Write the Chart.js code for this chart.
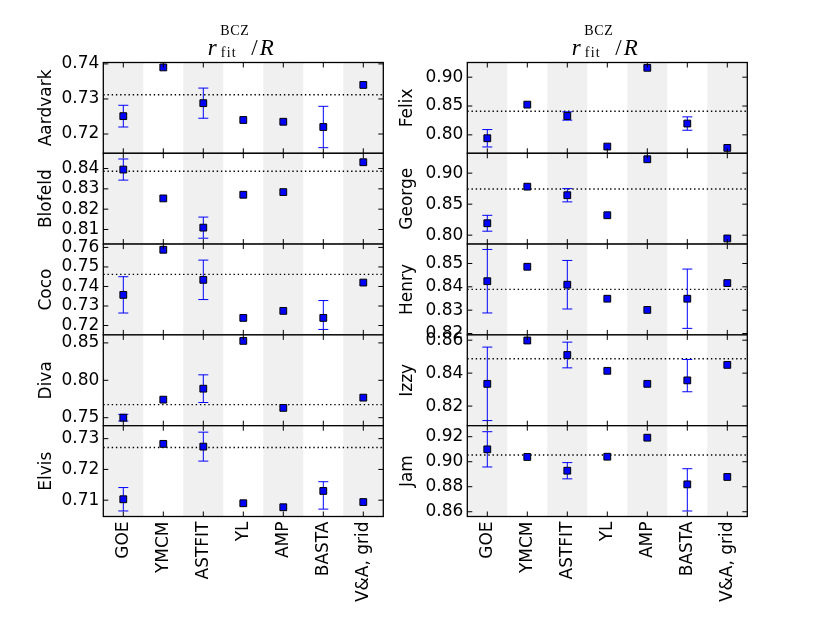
<!DOCTYPE html>
<html>
<head>
<meta charset="utf-8">
<script src="https://cdn.jsdelivr.net/npm/chart.js@4.4.0/dist/chart.umd.min.js"></script>
<style>
  body { margin: 0; background: #fff; width: 830px; height: 623px; overflow: hidden; position: relative; }
  canvas { position: absolute; }
  .tt { position: absolute; font-family: "Liberation Serif", serif; line-height: 1; white-space: nowrap; color: #000; }
</style>
</head>
<body>
<script>
// categories (x axis)
const categories = ['GOE', 'YMCM', 'ASTFIT', 'YL', 'AMP', 'BASTA', 'V&A, grid'];

// each panel: values, error bars (number = symmetric, [down, up] = asymmetric), reference line, ticks, y limits
const aardvark = [0.7251, 0.7390, 0.7288, 0.7240, 0.7235, 0.7220, 0.7340];
const aardvarkErr = [0.0031, 0, 0.0043, 0, 0, 0.0059, 0];
const aardvarkRef = 0.7312;
const aardvarkTicks = [0.72, 0.73, 0.74];
const aardvarkLim = [0.7145, 0.7404];

const blofeld = [0.8395, 0.8253, 0.8109, 0.8271, 0.8284, null, 0.8431];
const blofeldErr = [0.0052, 0, 0.0052, 0, 0, 0, 0];
const blofeldRef = 0.8387;
const blofeldTicks = [0.81, 0.82, 0.83, 0.84];
const blofeldLim = [0.8028, 0.8475];

const coco = [0.7357, 0.7588, 0.7434, 0.7239, 0.7275, 0.7239, 0.7420];
const cocoErr = [0.0093, 0, 0.0101, 0, 0, [0.0059, 0.0089], 0];
const cocoRef = 0.7462;
const cocoTicks = [0.72, 0.73, 0.74, 0.75, 0.76];
const cocoLim = [0.7152, 0.7617];

const diva = [0.7500, 0.7741, 0.7888, 0.8527, 0.7631, null, 0.7768];
const divaErr = [0.0045, 0, 0.0185, 0, 0, 0, 0];
const divaRef = 0.7675;
const divaTicks = [0.75, 0.80, 0.85];
const divaLim = [0.7393, 0.8607];

const elvis = [0.7103, 0.7283, 0.7274, 0.7090, 0.7077, 0.7130, 0.7094];
const elvisErr = [0.0038, 0, 0.0047, 0, 0, [0.0059, 0.0030], 0];
const elvisRef = 0.7271;
const elvisTicks = [0.71, 0.72, 0.73];
const elvisLim = [0.7047, 0.7342];

const felix = [0.7941, 0.8524, 0.8327, 0.7797, 0.9163, 0.8196, 0.7774];
const felixErr = [0.0151, 0, 0.0072, 0, 0, 0.0116, 0];
const felixRef = 0.8410;
const felixTicks = [0.80, 0.85, 0.90];
const felixLim = [0.768, 0.9255];

const george = [0.8192, 0.8782, 0.8644, 0.8321, 0.9224, null, 0.7947];
const georgeErr = [0.0128, 0, 0.0107, 0, 0, 0, 0];
const georgeRef = 0.8744;
const georgeTicks = [0.80, 0.85, 0.90];
const georgeLim = [0.7856, 0.932];

const henry = [0.8424, 0.8486, 0.8409, 0.8349, 0.8301, 0.8349, 0.8416];
const henryErr = [0.0136, 0, 0.0104, 0, 0, 0.0127, 0];
const henryRef = 0.8389;
const henryTicks = [0.82, 0.83, 0.84, 0.85];
const henryLim = [0.8194, 0.8583];

const izzy = [0.8335, 0.8598, 0.8510, 0.8414, 0.8335, 0.8356, 0.8450];
const izzyErr = [0.0223, 0, 0.0078, 0, 0, [0.0069, 0.0127], 0];
const izzyRef = 0.8487;
const izzyTicks = [0.82, 0.84, 0.86];
const izzyLim = [0.8081, 0.8632];

const jam = [0.9099, 0.9038, 0.8928, 0.9040, 0.9192, 0.8819, 0.8878];
const jamErr = [0.0141, 0, 0.0065, 0, 0, [0.0213, 0.0125], 0];
const jamRef = 0.9054;
const jamTicks = [0.86, 0.88, 0.90, 0.92];
const jamLim = [0.8562, 0.9288];

const panels = [
  {name: 'Aardvark', values: aardvark, err: aardvarkErr, ref: aardvarkRef, ticks: aardvarkTicks, lim: aardvarkLim, col: 0, row: 0},
  {name: 'Blofeld', values: blofeld, err: blofeldErr, ref: blofeldRef, ticks: blofeldTicks, lim: blofeldLim, col: 0, row: 1},
  {name: 'Coco', values: coco, err: cocoErr, ref: cocoRef, ticks: cocoTicks, lim: cocoLim, col: 0, row: 2},
  {name: 'Diva', values: diva, err: divaErr, ref: divaRef, ticks: divaTicks, lim: divaLim, col: 0, row: 3},
  {name: 'Elvis', values: elvis, err: elvisErr, ref: elvisRef, ticks: elvisTicks, lim: elvisLim, col: 0, row: 4},
  {name: 'Felix', values: felix, err: felixErr, ref: felixRef, ticks: felixTicks, lim: felixLim, col: 1, row: 0},
  {name: 'George', values: george, err: georgeErr, ref: georgeRef, ticks: georgeTicks, lim: georgeLim, col: 1, row: 1},
  {name: 'Henry', values: henry, err: henryErr, ref: henryRef, ticks: henryTicks, lim: henryLim, col: 1, row: 2},
  {name: 'Izzy', values: izzy, err: izzyErr, ref: izzyRef, ticks: izzyTicks, lim: izzyLim, col: 1, row: 3},
  {name: 'Jam', values: jam, err: jamErr, ref: jamRef, ticks: jamTicks, lim: jamLim, col: 1, row: 4},
];

// layout
const FONT = "'DejaVu Sans', sans-serif";
const cols = [
  {left: 103.3, right: 383.3, cvLeft: 0, cvW: 392, labelX: 47},
  {left: 467.3, right: 747.3, cvLeft: 392, cvW: 400, labelX: 408},
];
const rowTop = 62.5, rowH = 90.8;

function decor(p) {
  return {
    id: 'decor',
    beforeDatasetsDraw(chart) {
      const {ctx, chartArea: a, scales: {x, y}} = chart;
      ctx.save();
      ctx.fillStyle = '#fff';
      ctx.fillRect(a.left, a.top, a.right - a.left, a.bottom - a.top);
      ctx.fillStyle = '#f0f0f0';
      for (let i = 0; i < categories.length; i += 2) {
        const l = x.getPixelForValue(i - 0.5), r = x.getPixelForValue(i + 0.5);
        ctx.fillRect(l, a.top, r - l, a.bottom - a.top);
      }
      ctx.beginPath();
      ctx.rect(a.left, a.top, a.right - a.left, a.bottom - a.top);
      ctx.clip();
      // reference line
      const yr = y.getPixelForValue(p.ref);
      ctx.strokeStyle = '#000';
      ctx.lineWidth = 1.4;
      ctx.setLineDash([1.4, 2.8]);
      ctx.beginPath();
      ctx.moveTo(a.left, yr);
      ctx.lineTo(a.right, yr);
      ctx.stroke();
      ctx.setLineDash([]);
      // error bars
      ctx.strokeStyle = '#0000ff';
      ctx.lineWidth = 1;
      p.values.forEach((v, i) => {
        const e = p.err[i];
        if (v == null || !e) return;
        const [dn, up] = Array.isArray(e) ? e : [e, e];
        const px = x.getPixelForValue(i);
        const y0 = y.getPixelForValue(v - dn), y1 = y.getPixelForValue(v + up);
        ctx.beginPath();
        ctx.moveTo(px, y0); ctx.lineTo(px, y1);
        ctx.moveTo(px - 5, y0); ctx.lineTo(px + 5, y0);
        ctx.moveTo(px - 5, y1); ctx.lineTo(px + 5, y1);
        ctx.stroke();
      });
      ctx.restore();
    },
    afterDraw(chart) {
      const {ctx, chartArea: a, scales: {x, y}} = chart;
      ctx.save();
      ctx.strokeStyle = '#000';
      ctx.lineWidth = 1;
      ctx.beginPath();
      // inward ticks
      categories.forEach((_, i) => {
        const px = x.getPixelForValue(i);
        ctx.moveTo(px, a.bottom); ctx.lineTo(px, a.bottom - 5);
        ctx.moveTo(px, a.top); ctx.lineTo(px, a.top + 5);
      });
      p.ticks.forEach(v => {
        const py = y.getPixelForValue(v);
        ctx.moveTo(a.left, py); ctx.lineTo(a.left + 5, py);
        ctx.moveTo(a.right, py); ctx.lineTo(a.right - 5, py);
      });
      ctx.stroke();
      ctx.lineWidth = 1.3;
      ctx.strokeRect(a.left, a.top, a.right - a.left, a.bottom - a.top);
      ctx.restore();
    }
  };
}

panels.forEach(p => {
  const c = cols[p.col];
  const top = rowTop + p.row * rowH;
  const last = p.row === 4;
  const cvTop = Math.floor(top) - 20;
  const cvH = last ? 623 - cvTop : Math.ceil(top + rowH) + 20 - cvTop;
  const padTop = top - cvTop;
  const cv = document.createElement('canvas');
  cv.width = c.cvW;
  cv.height = cvH;
  cv.style.left = c.cvLeft + 'px';
  cv.style.top = cvTop + 'px';
  document.body.appendChild(cv);

  new Chart(cv, {
    type: 'scatter',
    data: {
      datasets: [{
        data: p.values.map((v, i) => v == null ? null : {x: i, y: v}).filter(Boolean),
        pointStyle: 'rect',
        pointRadius: 4.8,
        pointHoverRadius: 4.8,
        backgroundColor: '#0000ff',
        borderColor: '#000',
        borderWidth: 1,
      }]
    },
    options: {
      responsive: false,
      animation: false,
      devicePixelRatio: 1,
      events: [],
      layout: {padding: {left: 0, top: padTop, right: c.cvW - (c.right - c.cvLeft), bottom: 0}},
      plugins: {legend: {display: false}, tooltip: {enabled: false}},
      scales: {
        x: {
          type: 'linear', min: -0.5, max: 6.5,
          grid: {display: false, drawTicks: false},
          border: {display: false},
          afterBuildTicks: s => { s.ticks = categories.map((_, i) => ({value: i})); },
          ticks: {
            display: last, autoSkip: false, minRotation: 90, maxRotation: 90, padding: 5,
            color: '#000', font: {family: FONT, size: 17},
            callback: v => categories[v]
          },
          afterFit: s => { s.height = cvH - padTop - rowH; s.paddingLeft = 0; s.paddingRight = 0; }
        },
        y: {
          min: p.lim[0], max: p.lim[1],
          grid: {display: false, drawTicks: false},
          border: {display: false},
          afterBuildTicks: s => { s.ticks = p.ticks.map(v => ({value: v})); },
          ticks: {autoSkip: false, color: '#000', padding: 4, font: {family: FONT, size: 17}, callback: v => v.toFixed(2)},
          title: {
            display: true, text: p.name, color: '#000',
            font: {family: FONT, size: 17},
            padding: {top: c.labelX - c.cvLeft - 10.2, bottom: 0}
          },
          afterFit: s => { s.width = c.left - c.cvLeft; s.paddingTop = 0; s.paddingBottom = 0; }
        }
      }
    },
    plugins: [decor(p)]
  });
});

// column titles: r_fit^BCZ / R
const titlePieces = [
  {text: 'r', style: 'italic', size: 23, dx: -35.5, base: 55, ls: 0},
  {text: 'BCZ', style: 'normal', size: 14, dx: -23, base: 35.5, ls: 0.6},
  {text: 'fit', style: 'normal', size: 14, dx: -22.5, base: 58, ls: 1.2},
  {text: '/', style: 'normal', size: 23, dx: 8, base: 55, ls: 0},
  {text: 'R', style: 'italic', size: 23, dx: 16.5, base: 55, ls: 0},
];
cols.forEach(c => {
  const cx = (c.left + c.right) / 2;
  titlePieces.forEach(t => {
    const s = document.createElement('span');
    s.className = 'tt';
    s.textContent = t.text;
    s.style.fontSize = t.size + 'px';
    s.style.fontStyle = t.style;
    s.style.letterSpacing = t.ls + 'px';
    s.style.left = (cx + t.dx) + 'px';
    s.style.top = (t.base - 0.8375 * t.size) + 'px';
    document.body.appendChild(s);
  });
});
</script>
</body>
</html>
